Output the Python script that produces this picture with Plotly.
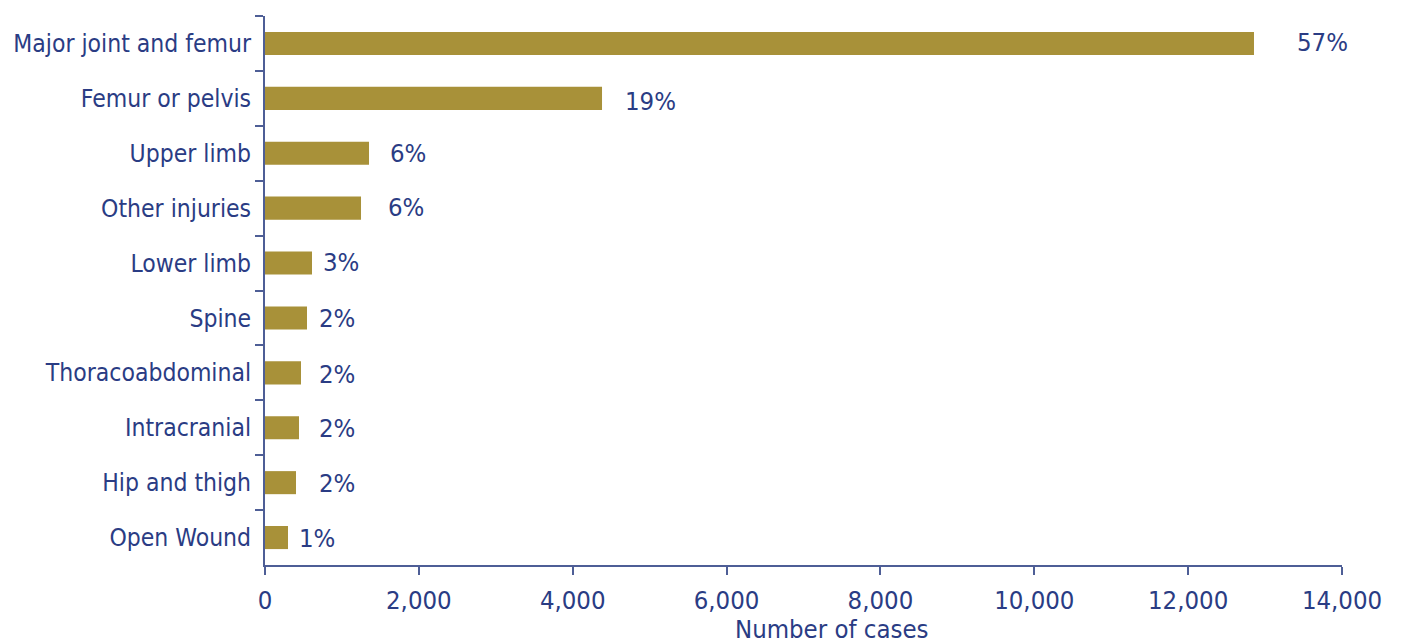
import plotly.graph_objects as go

# Data (top to bottom as shown)
categories = ["Major joint and femur", "Femur or pelvis", "Upper limb", "Other injuries",
              "Lower limb", "Spine", "Thoracoabdominal", "Intracranial", "Hip and thigh", "Open Wound"]
cases = [12856, 4381, 1352, 1248, 611, 546, 468, 442, 403, 299]
pct_labels = ["57%", "19%", "6%", "6%", "3%", "2%", "2%", "2%", "2%", "1%"]
x_tickvals = [0, 2000, 4000, 6000, 8000, 10000, 12000, 14000]
x_ticktext = ["0", "2,000", "4,000", "6,000", "8,000", "10,000", "12,000", "14,000"]

# label pixel offsets (style only)
label_xshift = [43, 23, 21, 27, 11, 12, 18, 20, 23, 11]
label_yshift = [1.5, -2.5, 0, 1, 1, 0, -1, 0, 0, 0]

FONT = "Liberation Sans Narrow, Arial Narrow, DejaVu Sans Condensed, sans-serif"
TEXT = "#2A3C84"
AXIS = "#4E5E96"
BAR = "#A89139"
FS = 25.5
FS_Y = 24.5

fig = go.Figure()
fig.add_trace(go.Bar(
    y=categories, x=cases, orientation="h",
    marker=dict(color=BAR, line=dict(width=0)),
    hoverinfo="skip",
))

for cat, val, lab, dx, dy in zip(categories, cases, pct_labels, label_xshift, label_yshift):
    fig.add_annotation(x=val, y=cat, text=lab, showarrow=False, xanchor="left",
                       yanchor="middle", xshift=dx - 2, yshift=dy,
                       font=dict(family=FONT, size=FS, color=TEXT))

fig.add_annotation(x=0.5265, y=-0.0856, xref="paper", yref="paper", text="Number of cases",
                   showarrow=False, xanchor="center", yanchor="top",
                   font=dict(family=FONT, size=FS, color=TEXT))

fig.update_layout(
    width=1408, height=640,
    margin=dict(l=257, r=74, t=8, b=83, autoexpand=False),
    paper_bgcolor="white", plot_bgcolor="white",
    bargap=0.58,
    showlegend=False,
    font=dict(family=FONT, size=FS, color=TEXT),
)
fig.update_xaxes(
    range=[0, 14000], tickvals=x_tickvals, ticktext=x_ticktext,
    showgrid=False, zeroline=False, automargin=False,
    showline=True, linecolor=AXIS, linewidth=2,
    ticks="outside", ticklen=8, tickwidth=2, tickcolor=AXIS,
    ticklabelstandoff=3,
    tickfont=dict(family=FONT, size=FS, color=TEXT),
)
fig.update_yaxes(
    categoryorder="array", categoryarray=categories, autorange="reversed",
    showgrid=False, zeroline=False, automargin=False,
    showline=True, linecolor=AXIS, linewidth=2,
    ticks="outside", tickson="boundaries", ticklen=8, tickwidth=2, tickcolor=AXIS,
    ticklabelstandoff=7,
    tickfont=dict(family=FONT, size=FS_Y, color=TEXT),
)

fig.write_html("out.html")
